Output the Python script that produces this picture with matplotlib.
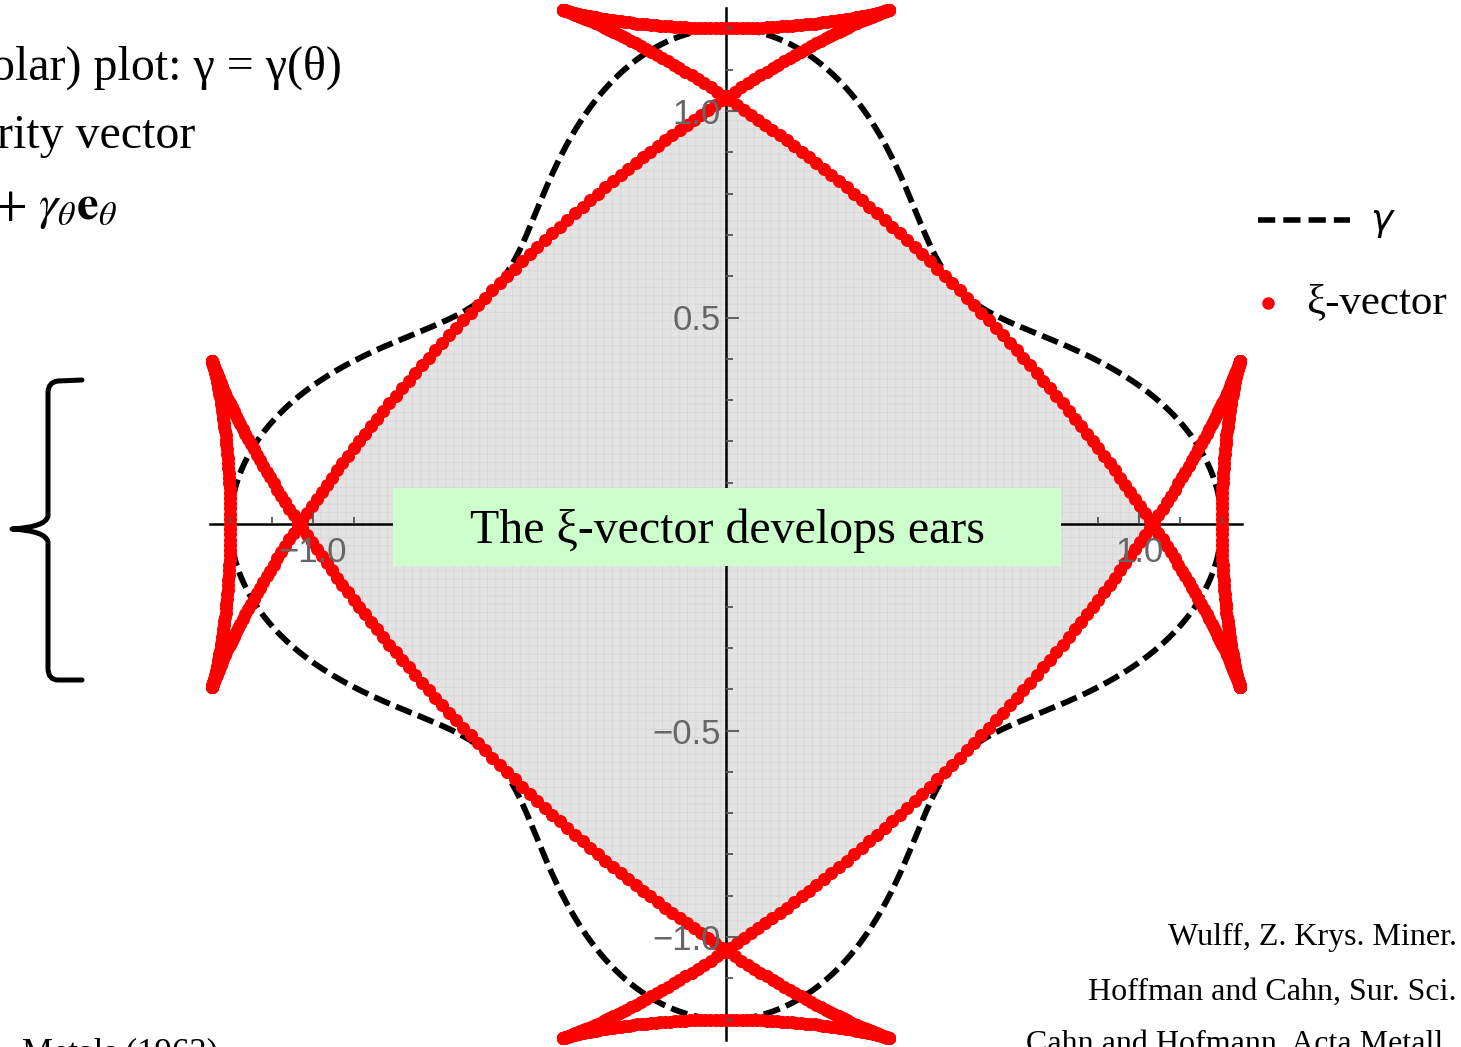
import numpy as np
import matplotlib
matplotlib.use('Agg')
import matplotlib.pyplot as plt
from matplotlib.patches import Rectangle, PathPatch
from matplotlib.path import Path
from matplotlib.lines import Line2D

# anisotropic surface energy  gamma(theta) = 1 + eps * cos(fold * theta)
EPS = 0.2
FOLD = 4
N_PTS = 1000

X_MAJOR = [-1.0, -0.5, 0.5, 1.0]
X_LABELS = ["\u22121.0", "", "", "1.0"]
Y_MAJOR = [-1.0, -0.5, 0.5, 1.0]
Y_LABELS = ["\u22121.0", "\u22120.5", "0.5", "1.0"]
MINOR = [-1.2, -1.1, -0.9, -0.8, -0.7, -0.6, -0.4, -0.3, -0.2, -0.1,
         0.1, 0.2, 0.3, 0.4, 0.6, 0.7, 0.8, 0.9, 1.1, 1.2]
AXIS_EXTENT = 1.25

LEFT_LINES = ["olar) plot: \u03b3 = \u03b3(\u03b8)", "rity vector"]
LEFT_MATH = r"$+\ \gamma_\theta\mathbf{e}_\theta$"
REFS = ["Wulff, Z. Krys. Miner.", "Hoffman and Cahn, Sur. Sci.",
        "Cahn and Hofmann, Acta Metall."]
BOTTOM_LEFT = "Metals (1963)"
BANNER = "The \u03be-vector develops ears"

W, H = 1461, 1047
PX = 413.0              # pixels per data unit
X0, Y0 = 726.0, 524.0   # pixel position of the origin

SERIF = ['Liberation Serif', 'DejaVu Serif']
SANS = ['Liberation Sans', 'DejaVu Sans']
plt.rcParams['mathtext.fontset'] = 'stix'
plt.rcParams['hatch.color'] = '#d6d6d6'
plt.rcParams['hatch.linewidth'] = 0.6


def fx(px):
    return px / W


def fy(py):
    return 1 - py / H


theta = np.linspace(0, 2 * np.pi, N_PTS, endpoint=False)
g = 1 + EPS * np.cos(FOLD * theta)
gp = -FOLD * EPS * np.sin(FOLD * theta)

# polar plot of gamma
gx, gy = g * np.cos(theta), g * np.sin(theta)
gx, gy = np.append(gx, gx[0]), np.append(gy, gy[0])

# xi-vector = gamma e_r + gamma_theta e_theta
xx = g * np.cos(theta) - gp * np.sin(theta)
xy = g * np.sin(theta) + gp * np.cos(theta)

# Wulff shape: inner envelope of the tangent planes
phi = np.linspace(0, 2 * np.pi, 1440, endpoint=False)
c = np.cos(phi[:, None] - theta[None, :])
with np.errstate(divide='ignore'):
    rr = np.where(c > 1e-6, g[None, :] / c, np.inf)
rw = rr.min(axis=1)
wx, wy = rw * np.cos(phi), rw * np.sin(phi)

fig = plt.figure(figsize=(W / 100, H / 100), dpi=100)
ax = fig.add_axes([0, 0, 1, 1])
ax.set_xlim(-X0 / PX, (W - X0) / PX)
ax.set_ylim(-(H - Y0) / PX, Y0 / PX)
ax.patch.set_visible(False)

ax.fill(wx, wy, facecolor='#e3e3e3', hatch='++', linewidth=0, zorder=1)

for s in ('top', 'right'):
    ax.spines[s].set_visible(False)
for s in ('left', 'bottom'):
    ax.spines[s].set_position(('data', 0))
    ax.spines[s].set_bounds(-AXIS_EXTENT, AXIS_EXTENT)
    ax.spines[s].set_linewidth(1.8)
    ax.spines[s].set_zorder(2)

ax.set_xticks(X_MAJOR)
ax.set_yticks(Y_MAJOR)
ax.set_xticks(MINOR, minor=True)
ax.set_yticks(MINOR, minor=True)
ax.set_xticklabels(X_LABELS)
ax.set_yticklabels(Y_LABELS)
ax.tick_params(which='both', direction='in', color='#555555', width=1.3,
               labelcolor='#666666', labelsize=25)
ax.tick_params(which='major', length=9)
ax.tick_params(which='minor', length=5)
ax.tick_params(axis='x', pad=9)
ax.tick_params(axis='y', pad=4)
for lab in ax.get_xticklabels() + ax.get_yticklabels():
    lab.set_family(SANS)
ax.xaxis.set_zorder(5)
ax.yaxis.set_zorder(5)

ax.plot(gx, gy, color='black', lw=4.2, linestyle=(0, (2.9, 1.15)), zorder=3)
ax.plot(xx, xy, 'o', color='red', mec='none', ms=9.4, zorder=4)

# banner across the middle
fig.patches.append(Rectangle((fx(393), fy(566)), fx(1061) - fx(393),
                             fy(488) - fy(566), transform=fig.transFigure,
                             facecolor='#ccffcc', edgecolor='none', zorder=6))
fig.text(fx(728), fy(543), BANNER, ha='center', va='baseline',
         family=SERIF, fontsize=34.5, zorder=7)

# legend
fig.add_artist(Line2D([fx(1258), fx(1350)], [fy(220), fy(220)],
                      transform=fig.transFigure, color='black', lw=4.0,
                      linestyle=(0, (3.1, 1.45))))
fig.text(fx(1370), fy(220), "\u03b3", ha='left', va='center',
         family='DejaVu Sans', style='italic', fontsize=27)
fig.add_artist(Line2D([fx(1268)], [fy(303)], transform=fig.transFigure,
                      marker='o', color='red', mec='none', ms=9.0))
fig.text(fx(1306), fy(313), "\u03be-vector", ha='left', va='baseline',
         family=SERIF, fontsize=31)

# slide text on the left
fig.text(fx(342), fy(80), LEFT_LINES[0], ha='right', va='baseline',
         family=SERIF, fontsize=34.5)
fig.text(fx(195), fy(148), LEFT_LINES[1], ha='right', va='baseline',
         family=SERIF, fontsize=34.5)
fig.text(fx(118), fy(219), LEFT_MATH, ha='right', va='baseline', fontsize=35)
fig.text(fx(22), fy(1062), BOTTOM_LEFT, ha='left', va='baseline',
         family=SERIF, fontsize=25)

# references
for txt, base, right in zip(REFS, [945, 1000, 1052], [1457, 1457, 1451]):
    fig.text(fx(right), fy(base), txt, ha='right', va='baseline',
             family=SERIF, fontsize=23)

# curly brace
bv = [(82, 380), (58, 381), (48, 382), (48, 393), (48, 516),
      (46, 527), (12, 529), (46, 531), (48, 542), (48, 668),
      (48, 680), (58, 680), (82, 680)]
bc = [Path.MOVETO, Path.LINETO, Path.CURVE3, Path.CURVE3, Path.LINETO,
      Path.CURVE3, Path.CURVE3, Path.CURVE3, Path.CURVE3, Path.LINETO,
      Path.CURVE3, Path.CURVE3, Path.LINETO]
brace = Path([(fx(a), fy(b)) for a, b in bv], bc)
fig.patches.append(PathPatch(brace, transform=fig.transFigure, fill=False,
                             lw=3.6, capstyle='round', joinstyle='round'))

fig.savefig('out.png', dpi=100)
